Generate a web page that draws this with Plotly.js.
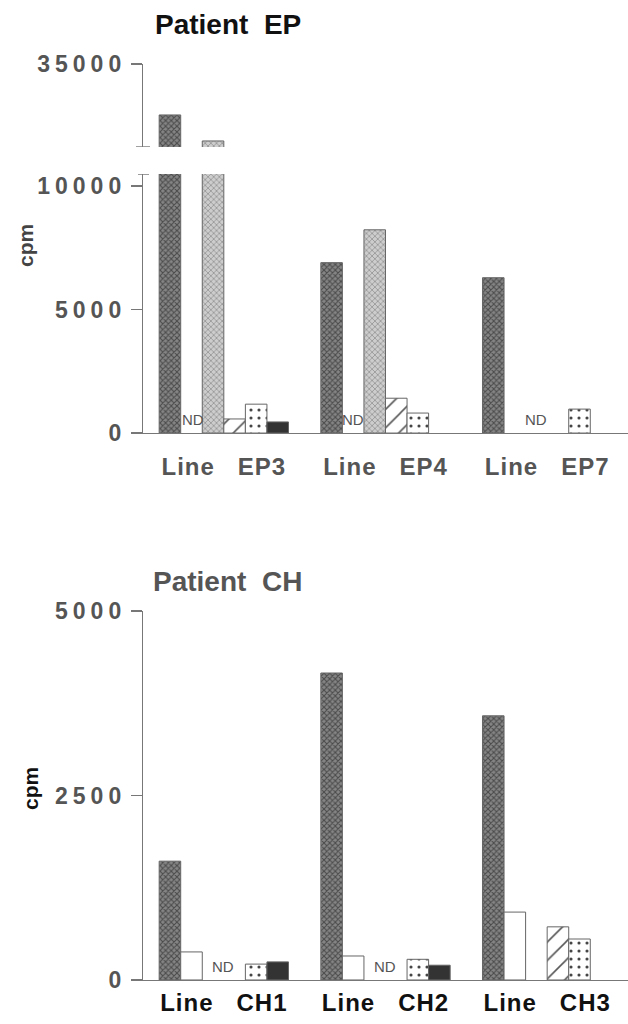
<!DOCTYPE html>
<html>
<head>
<meta charset="utf-8">
<script src="https://cdn.plot.ly/plotly-3.0.1.min.js"></script>
<style>
  html, body { margin: 0; padding: 0; background: #fff; }
  .ytick text, .y2tick text, .y3tick text { letter-spacing: 5px; }
  .xtick text, .x3tick text { letter-spacing: 1px; }
</style>
</head>
<body>
<div id="chart" style="width:628px;height:1024px;"></div>
<script>
// ---------- Data: Patient EP ----------
const epCategories = ['EP3', 'EP4', 'EP7'];
const epTickText = ['Line\u00a0\u00a0\u00a0EP3', 'Line\u00a0\u00a0\u00a0EP4', 'Line\u00a0\u00a0\u00a0EP7'];
const epLineDark  = [25800, 6900, 6290];
const epLineWhite = [null, null, null];
const epLight     = [21100, 8230, null];
const epHatched   = [570, 1410, null];
const epDotted    = [1170, 810, 970];
const epBlack     = [450, null, null];
const epNDCats    = ['EP3', 'EP4', 'EP7'];

// ---------- Data: Patient CH ----------
const chCategories = ['CH1', 'CH2', 'CH3'];
const chTickText = ['Line\u00a0\u00a0\u00a0CH1', 'Line\u00a0\u00a0\u00a0CH2', 'Line\u00a0\u00a0\u00a0CH3'];
const chLineDark  = [1610, 4160, 3580];
const chLineWhite = [380, 325, 920];
const chLight     = [null, null, null];
const chHatched   = [null, null, 720];
const chDotted    = [215, 280, 555];
const chBlack     = [245, 200, null];
const chNDCats    = ['CH1', 'CH2'];

// ---------- Axis ticks ----------
const epLowerTicks = [0, 5000, 10000];
const epLowerTickText = ['0', '5000', '10000'];
const epUpperTicks = [35000];
const epUpperTickText = ['35000'];
const chTicks = [0, 2500, 5000];
const chTickLabels = ['0', '2500', '5000'];

// ---------- Styles ----------
const outline = { color: '#666', width: 1 };
const styles = {
  dark:   { color: '#7c7c7c', line: outline, pattern: { shape: 'x', fgcolor: '#4a4a4a', bgcolor: '#858585', size: 4, solidity: 0.45 } },
  white:  { color: '#ffffff', line: outline },
  light:  { color: '#c4c4c4', line: outline, pattern: { shape: 'x', fgcolor: '#999', bgcolor: '#cdcdcd', size: 4, solidity: 0.4 } },
  hatch:  { color: '#ffffff', line: outline, pattern: { shape: '/', fgcolor: '#555', bgcolor: '#ffffff', size: 13, solidity: 0.12 } },
  dot:    { color: '#ffffff', line: outline, pattern: { shape: '.', fgcolor: '#444', bgcolor: '#ffffff', size: 8, solidity: 0.12 } },
  black:  { color: '#333333', line: outline }
};

function bar(x, y, style, xa, ya) {
  return { type: 'bar', x: x, y: y, marker: style, xaxis: xa, yaxis: ya, hoverinfo: 'skip', cliponaxis: true };
}

const epSeries = [
  [epLineDark, styles.dark], [epLineWhite, styles.white], [epLight, styles.light],
  [epHatched, styles.hatch], [epDotted, styles.dot], [epBlack, styles.black]
];
const chSeries = [
  [chLineDark, styles.dark], [chLineWhite, styles.white], [chLight, styles.light],
  [chHatched, styles.hatch], [chDotted, styles.dot], [chBlack, styles.black]
];

const traces = [];
epSeries.forEach(s => traces.push(bar(epCategories, s[0], s[1], 'x', 'y')));
epSeries.forEach(s => traces.push(bar(epCategories, s[0], s[1], 'x', 'y2')));
chSeries.forEach(s => traces.push(bar(chCategories, s[0], s[1], 'x3', 'y3')));

const FONT = 'Liberation Sans, Arial, Helvetica, sans-serif';
const gray = '#555';
const axisColor = '#777';

const yCommon = {
  ticks: 'outside', ticklen: 11, tickwidth: 1.2, tickcolor: axisColor,
  showline: true, linecolor: axisColor, linewidth: 1.2,
  showgrid: false, zeroline: false, fixedrange: true,
  tickfont: { family: FONT, size: 23, weight: 'bold', color: gray }
};
const xCommon = {
  type: 'category', range: [-0.5, 2.5], ticks: '',
  showline: true, linecolor: axisColor, linewidth: 1.2,
  showgrid: false, zeroline: false, fixedrange: true,
  tickfont: { family: FONT, size: 24, weight: 'bold', color: gray }
};

const annotations = [
  { text: 'Patient\u00a0\u00a0EP', xref: 'paper', yref: 'paper', x: 0.363, y: 0.9756, xanchor: 'center', yanchor: 'middle', showarrow: false,
    font: { family: FONT, size: 28, weight: 'bold', color: '#111' } },
  { text: 'Patient\u00a0\u00a0CH', xref: 'paper', yref: 'paper', x: 0.363, y: 0.4326, xanchor: 'center', yanchor: 'middle', showarrow: false,
    font: { family: FONT, size: 28, weight: 'bold', color: gray } },
  { text: 'cpm', xref: 'paper', yref: 'paper', x: 0.0398, y: 0.7607, textangle: -90, xanchor: 'center', yanchor: 'middle', showarrow: false,
    font: { family: FONT, size: 21, weight: 'bold', color: '#444' } },
  { text: 'cpm', xref: 'paper', yref: 'paper', x: 0.0494, y: 0.2295, textangle: -90, xanchor: 'center', yanchor: 'middle', showarrow: false,
    font: { family: FONT, size: 21, weight: 'bold', color: '#111' } }
];
const epNDShift = [-31, -32, -11];
epNDCats.forEach((c, i) => annotations.push({
  text: 'ND', xref: 'x', yref: 'y', x: c, y: 0, xshift: epNDShift[i], yshift: 3, yanchor: 'bottom', showarrow: false,
  font: { family: FONT, size: 15, color: gray }
}));
const chNDShift = [-1, 0];
chNDCats.forEach((c, i) => annotations.push({
  text: 'ND', xref: 'x3', yref: 'y3', x: c, y: 0, xshift: chNDShift[i], yshift: 3, yanchor: 'bottom', showarrow: false,
  font: { family: FONT, size: 15, color: gray }
}));

const shapes = [
  { type: 'line', xref: 'paper', yref: 'y', x0: 138 / 628, x1: 149 / 628, y0: 10490, y1: 10490, line: { color: axisColor, width: 1.5 } },
  { type: 'line', xref: 'paper', yref: 'y2', x0: 136 / 628, x1: 150 / 628, y0: 20000, y1: 20000, line: { color: axisColor, width: 1.5 } }
];

const layout = {
  width: 628, height: 1024,
  margin: { l: 0, r: 0, t: 0, b: 0 },
  paper_bgcolor: '#ffffff', plot_bgcolor: 'rgba(0,0,0,0)',
  showlegend: false,
  barmode: 'group', bargap: 0.2, bargroupgap: 0,
  font: { family: FONT, color: gray },
  xaxis: Object.assign({}, xCommon, { domain: [0.2277, 1], anchor: 'y', tickvals: epCategories, ticktext: epTickText, ticklabelstandoff: 12 }),
  yaxis: Object.assign({}, yCommon, { domain: [0.5771, 0.8301], anchor: 'x', range: [0, 10490], tickvals: epLowerTicks, ticktext: epLowerTickText }),
  yaxis2: Object.assign({}, yCommon, { domain: [0.8564, 0.9375], anchor: 'x', range: [20000, 35000], tickvals: epUpperTicks, ticktext: epUpperTickText }),
  xaxis3: Object.assign({}, xCommon, { domain: [0.2277, 1], anchor: 'y3', tickvals: chCategories, ticktext: chTickText, ticklabelstandoff: 1,
    tickfont: { family: FONT, size: 24, weight: 'bold', color: '#111' } }),
  yaxis3: Object.assign({}, yCommon, { domain: [0.0430, 0.4033], anchor: 'x3', range: [0, 5000], tickvals: chTicks, ticktext: chTickLabels }),
  annotations: annotations,
  shapes: shapes
};

Plotly.newPlot('chart', traces, layout, { staticPlot: true, displayModeBar: false });
</script>
</body>
</html>
